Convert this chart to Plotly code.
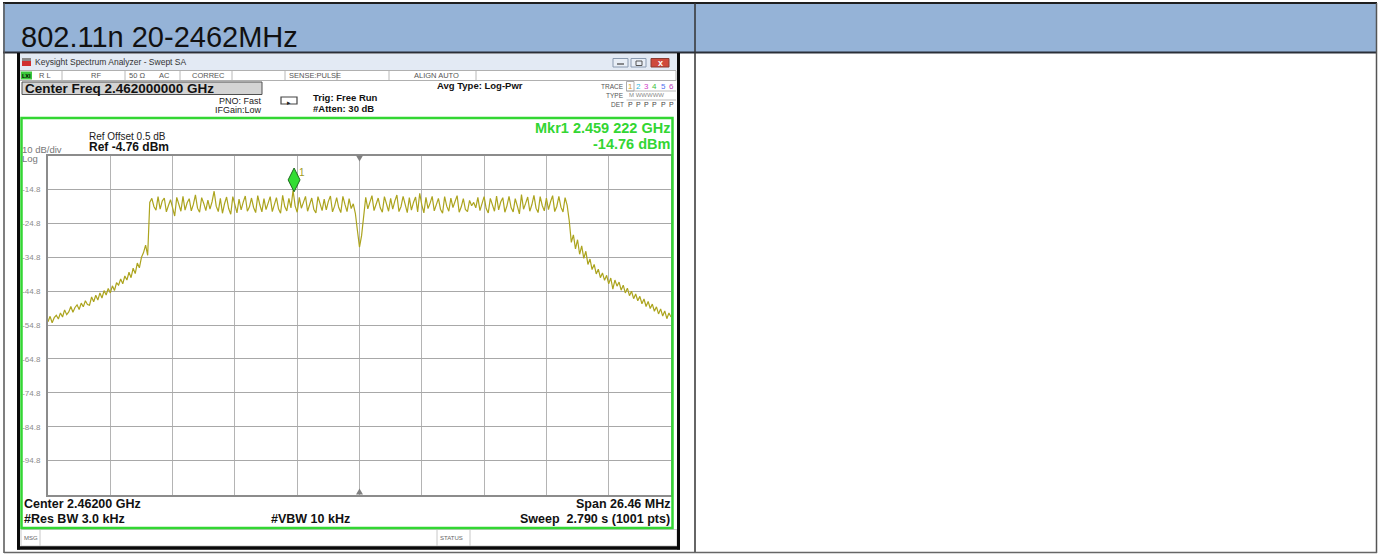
import plotly.graph_objects as go

# ---------------- data ----------------
center_mhz = 2462.0
span_mhz = 26.46
ref_level = -4.76
db_per_div = 10
y_tick_labels = ["-14.8", "-24.8", "-34.8", "-44.8", "-54.8", "-64.8", "-74.8", "-84.8", "-94.8"]

# trace level (dBm), 301 samples across the span
left_skirt = [
    -53.8, -52.2, -54.1, -52.6, -51.9, -53.0, -51.2, -52.4, -50.3, -51.7,
    -50.9, -49.3, -51.0, -49.6, -48.8, -50.2, -48.3, -49.4, -47.6, -48.7,
    -48.9, -46.5, -47.9, -46.0, -47.4, -45.3, -46.8, -44.6, -45.9, -44.0,
    -45.3, -43.2, -44.6, -42.3, -43.0, -41.2, -42.6, -40.3, -41.5, -39.2,
    -40.8, -38.0, -39.6, -36.5, -37.9, -34.8, -33.4, -31.2, -34.2,
]
in_band = [
    -18.6,
    -17.4, -19.8, -20.9, -16.9, -20.6, -18.2, -17.3, -21.4, -19.5,
    -17.8, -20.2, -22.6, -17.1, -19.4, -21.2, -16.8, -20.9, -18.7,
    -17.5, -21.1, -19.2, -16.4, -20.3, -21.5, -17.2, -18.9, -21.0,
    -17.9, -20.6, -18.4, -15.3, -19.7, -21.3, -17.4, -21.8, -19.0,
    -17.0, -20.4, -22.1, -16.9, -19.6, -21.7, -17.6, -20.8, -18.5,
    -16.7, -21.2, -19.9, -17.3, -20.1, -21.6, -16.6, -19.3, -21.4,
    -17.5, -20.7, -18.8, -16.9, -21.3, -19.4, -17.2, -20.5, -21.8,
    -16.5, -19.8, -21.1, -17.4, -20.2, -15.0, -19.6, -21.5, -17.1,
    -20.3, -18.6, -16.8, -21.2, -19.1, -17.3, -20.6, -21.7, -16.9,
    -19.4, -21.0, -17.6, -20.8, -18.3, -16.7, -21.4, -19.7, -17.2,
    -20.1, -21.6, -16.8, -19.2, -21.3, -17.5,
    -20.4, -19.0,
    -21.8, -26.9, -31.8, -28.4, -22.6,
    -17.1, -20.5, -18.3, -16.6, -21.0, -19.4, -17.3, -20.2, -21.5,
    -16.9, -19.1, -21.2, -17.4, -20.6, -18.2, -16.4, -21.3, -19.8,
    -16.8, -19.5, -21.6, -17.2, -20.9, -18.6, -17.0, -21.4, -15.9,
    -19.3, -21.7, -17.1, -20.4, -18.8, -16.8, -21.1, -19.5, -17.4,
    -20.6, -21.8, -16.9, -19.7, -21.2, -17.3, -20.1, -18.4, -16.6,
    -21.5, -19.9, -17.5, -20.7, -21.3, -18.0, -19.6, -18.6, -20.2,
    -17.1, -21.0, -19.1, -16.9, -20.4, -21.7, -17.4, -19.3, -21.2,
    -16.7, -20.8, -18.5, -17.2, -21.5, -19.6, -16.8, -20.1, -21.4,
    -17.5, -19.7, -22.0, -16.3, -20.6, -18.9, -17.0, -21.2, -19.3,
    -16.5, -20.3, -21.6, -16.9, -19.5, -21.1, -17.3, -20.7, -18.4,
    -16.6, -21.3, -19.8, -16.8, -20.0, -21.4,
    -17.2, -19.5,
]
right_skirt = [
    -24.0, -30.4,
    -28.2, -32.3, -29.6, -33.9, -31.4, -35.1, -33.0, -36.9, -35.3, -38.4,
    -36.9, -39.7, -38.3, -40.8, -39.4, -41.6, -40.1, -42.6, -40.9, -44.2,
    -41.5, -43.3, -42.1, -44.5, -43.0, -45.3, -43.9, -46.1, -44.8, -47.0,
    -45.6, -47.6, -46.3, -48.5, -47.1, -49.3, -47.8, -49.9, -48.6, -50.7,
    -49.4, -51.5, -50.0, -52.1, -50.6, -52.9, -51.2, -52.4,
]
levels = left_skirt + in_band + right_skirt
start_mhz = center_mhz - span_mhz / 2
stop_mhz = center_mhz + span_mhz / 2
freqs = [start_mhz + i * span_mhz / (len(levels) - 1) for i in range(len(levels))]

mkr_freq = 2459.222
mkr_level = -14.76

# ---------------- layout helpers (pixel geometry) ----------------
W, H = 1380, 557
FONT = "Liberation Sans, Arial, sans-serif"
PX0, PX1 = 48, 671      # plot area x (px)
PY0, PY1 = 155.5, 494.5  # plot area y (px)


def px(x):
    return x / W


def py(y):
    return 1 - y / H


shapes = []
annotations = []


def rect(x0, y0, x1, y1, fill=None, line=None, lw=1, layer="above"):
    shapes.append(dict(type="rect", xref="paper", yref="paper",
                       x0=px(x0), x1=px(x1), y0=py(y1), y1=py(y0),
                       fillcolor=fill if fill else "rgba(0,0,0,0)",
                       line=dict(color=line if line else "rgba(0,0,0,0)", width=lw if line else 0),
                       layer=layer))


def line(x0, y0, x1, y1, color, lw=1, layer="above"):
    shapes.append(dict(type="line", xref="paper", yref="paper",
                       x0=px(x0), x1=px(x1), y0=py(y0), y1=py(y1),
                       line=dict(color=color, width=lw), layer=layer))


def txt(s, x, y, size, color="#000", bold=False, xanchor="left", family=FONT):
    annotations.append(dict(text=s, xref="paper", yref="paper", x=px(x), y=py(y),
                            xanchor=xanchor, yanchor="middle", showarrow=False,
                            font=dict(size=size, color=color, family=family,
                                      weight="bold" if bold else "normal"),
                            borderpad=0))


# ---- table ----
rect(3, 3, 1377, 52, fill="#95b3d7", layer="below")
line(3, 3, 1377, 3, "#1e1e1e", 2)
line(3, 52.5, 1377, 52.5, "#2a2f38", 2)
line(4, 3, 4, 553, "#555", 1.5)
line(1376.5, 3, 1376.5, 553, "#555", 1.5)
line(695, 3, 695, 553, "#333", 1.5)
line(4, 552.5, 1377, 552.5, "#666", 1.5)
txt("802.11n 20-2462MHz", 20, 37, 29, "#111")

# ---- analyzer screenshot ----
rect(17, 52, 680, 550, fill="#ffffff", layer="below")
rect(19.5, 54, 677.5, 70, fill="#e3eaf4", layer="below")
# app icon
rect(22, 58, 31, 61, fill="#8a8a8a")
rect(22, 61, 31, 66, fill="#d03030")
txt("Keysight Spectrum Analyzer - Swept SA", 34, 62, 8.5, "#333")
# window buttons
rect(613, 58.5, 628, 67, fill="#e8eef6", line="#8a9ab0")
rect(631, 58.5, 646, 67, fill="#e8eef6", line="#8a9ab0")
rect(651, 58.5, 669, 67, fill="#cf4a3c", line="#8a3a30")
line(617, 64, 624, 64, "#444", 1.2)
rect(636, 61, 642, 65.5, line="#555", lw=1)
txt("x", 660, 62.5, 9, "#fff", bold=True, xanchor="center")

# status row
rect(20, 70.5, 676, 80.5, fill="#ffffff", line="#b0b0b0", layer="below")
rect(21, 71.5, 32, 79.5, fill="#3cc83c")
txt("LXI", 26.5, 75.5, 5.5, "#000", bold=True, xanchor="center")
for xd in [62, 125, 180, 232, 285, 337, 389, 476]:
    line(xd, 71, xd, 80, "#b8b8b8", 1)
txt("R L", 38, 75.5, 7.5, "#555")
txt("RF", 90, 75.5, 7.5, "#555")
txt("50 Ω", 128, 75.5, 7.5, "#555")
txt("AC", 158, 75.5, 7.5, "#555")
txt("CORREC", 191, 75.5, 7.5, "#555")
txt("SENSE:PULSE", 288, 75.5, 7.5, "#555")
txt("ALIGN AUTO", 413, 75.5, 7.5, "#555")

# center freq box
rect(22, 82, 262, 94.5, fill="#d4d4d4", line="#505050", lw=1)
txt("Center Freq 2.462000000 GHz", 24, 88.5, 13.5, "#111", bold=True)
txt("PNO: Fast", 263, 100.5, 9, "#222", xanchor="right")
txt("IFGain:Low", 263, 110.5, 9, "#222", xanchor="right")
rect(281, 97, 297, 104, line="#444", lw=1.2)
txt("▸", 289, 103, 7, "#222", xanchor="center")
txt("Trig: Free Run", 312, 97, 9.5, "#111", bold=True)
txt("#Atten: 30 dB", 312, 108.5, 9.5, "#111", bold=True)
txt("Avg Type: Log-Pwr", 436, 85.5, 9.5, "#111", bold=True)

# trace table (top right)
txt("TRACE", 625, 86, 6.5, "#555", xanchor="right")
txt("TYPE", 625, 95.5, 6.5, "#555", xanchor="right")
txt("DET", 625, 104.5, 6.5, "#555", xanchor="right")
rect(626.5, 81.5, 634, 91, line="#999", lw=0.8)
trace_cols = ["#e0a020", "#30b8e0", "#d040c8", "#40c040", "#5070f0", "#c040c0"]
for k, c in enumerate(trace_cols):
    txt(str(k + 1), 630 + k * 8.3, 86, 8, c, xanchor="center")
    txt("P", 630 + k * 8.3, 104.5, 7, "#444", xanchor="center")
txt("M WWWWW", 628, 95.5, 6, "#888")
line(626.5, 91, 676, 91, "#aaa", 0.8)
line(626.5, 100, 676, 100, "#aaa", 0.8)

# screen texts
GREEN = "#33d633"
txt("Mkr1 2.459 222 GHz", 671, 127.5, 14.5, GREEN, bold=True, xanchor="right")
txt("-14.76 dBm", 671, 144, 14.5, GREEN, bold=True, xanchor="right")
txt("Ref Offset 0.5 dB", 88, 136, 10, "#222")
txt("Ref -4.76 dBm", 88, 146.5, 12, "#111", bold=True)
txt("10 dB/div", 21, 149.5, 9.5, "#777")
txt("Log", 21, 158.5, 9.5, "#777")
txt("Center 2.46200 GHz", 23, 504, 12.5, "#111", bold=True)
txt("#Res BW 3.0 kHz", 23, 518.5, 12.5, "#111", bold=True)
txt("#VBW 10 kHz", 310, 518.5, 12.5, "#111", bold=True, xanchor="center")
txt("Span 26.46 MHz", 671, 504, 12.5, "#111", bold=True, xanchor="right")
txt("Sweep  2.790 s (1001 pts)", 671, 518.5, 12.5, "#111", bold=True, xanchor="right")

# green frame
rect(21.5, 118, 672.5, 528, line=GREEN, lw=2.5)

# msg bar
rect(21, 529.5, 677, 546, fill="#ffffff", line="#c8c8c8", layer="below")
line(40, 530, 40, 546, "#c8c8c8", 1)
line(437, 530, 437, 546, "#c8c8c8", 1)
line(470, 530, 470, 546, "#c8c8c8", 1)
txt("MSG", 23, 537.5, 6, "#666")
txt("STATUS", 439, 537.5, 6, "#666")

# black frame of screenshot
line(18.5, 53, 18.5, 549.5, "#0a0a0a", 3)
line(678.5, 53, 678.5, 549.5, "#0a0a0a", 3)
line(17, 548, 680, 548, "#0a0a0a", 3.5)

# center triangles on the graticule
cx = PX0 + (PX1 - PX0) / 2
shapes.append(dict(type="path", xref="paper", yref="paper",
                   path=f"M {px(cx-3.5)} {py(PY0)} L {px(cx+3.5)} {py(PY0)} L {px(cx)} {py(PY0+6)} Z",
                   fillcolor="#808080", line=dict(width=0)))
shapes.append(dict(type="path", xref="paper", yref="paper",
                   path=f"M {px(cx-3.5)} {py(PY1)} L {px(cx+3.5)} {py(PY1)} L {px(cx)} {py(PY1-6)} Z",
                   fillcolor="#808080", line=dict(width=0)))

# ---------------- figure ----------------
fig = go.Figure()
fig.add_trace(go.Scatter(x=freqs, y=levels, mode="lines",
                         line=dict(color="#aca41e", width=1.2), hoverinfo="skip"))
# marker diamond sits just above the marked point
mkr_offset_db = 2.8
fig.add_trace(go.Scatter(x=[mkr_freq], y=[mkr_level + mkr_offset_db], mode="markers",
                         marker=dict(symbol="diamond-tall", size=17, color="#33dd33",
                                     line=dict(color="#1d6b1d", width=1)),
                         cliponaxis=False, hoverinfo="skip"))
annotations.append(dict(text="1", x=mkr_freq, y=mkr_level + mkr_offset_db, xref="x", yref="y",
                        xshift=8, yshift=7, showarrow=False,
                        font=dict(size=10, color="#a09a20", family=FONT)))

div = span_mhz / 10
fig.update_layout(
    width=W, height=H,
    margin=dict(l=0, r=0, t=0, b=0),
    paper_bgcolor="#ffffff", plot_bgcolor="#ffffff",
    showlegend=False,
    shapes=shapes, annotations=annotations,
    xaxis=dict(domain=[px(PX0), px(PX1)], range=[start_mhz, stop_mhz],
               tickvals=[start_mhz + k * div for k in range(1, 10)],
               showticklabels=False, ticks="", showgrid=True, gridcolor="#b4b4b4", gridwidth=1,
               zeroline=False, showline=True, mirror=True, linecolor="#8c8c8c", linewidth=2,
               fixedrange=True),
    yaxis=dict(domain=[py(PY1), py(PY0)], range=[ref_level - 10 * db_per_div, ref_level],
               tickvals=[ref_level - db_per_div * (k + 1) for k in range(len(y_tick_labels))],
               ticktext=y_tick_labels, ticks="", ticklabelstandoff=4,
               tickfont=dict(size=8, color="#8c8c8c", family=FONT),
               showgrid=True, gridcolor="#a8a8a8", gridwidth=1,
               zeroline=False, showline=True, mirror=True, linecolor="#8c8c8c", linewidth=2,
               fixedrange=True),
)

fig.write_html("out.html", config={"displayModeBar": False},
               post_script="document.body.style.margin='0';document.body.style.overflow='hidden';")
